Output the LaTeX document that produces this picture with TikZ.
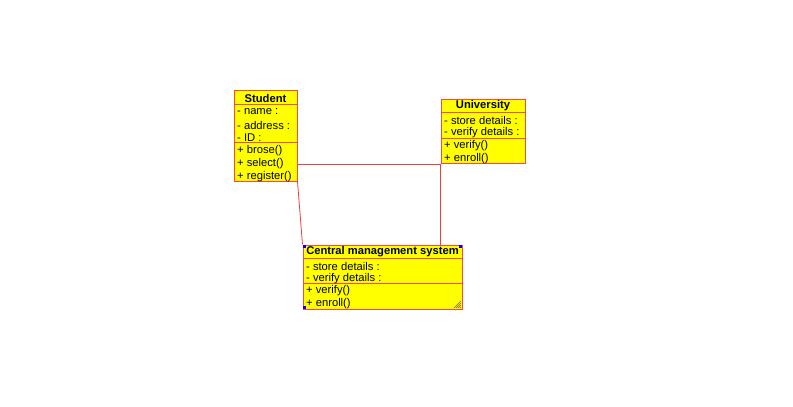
\documentclass[tikz,border=0pt]{standalone}
\usepackage{fontspec}
\setmainfont{Liberation Sans}
\begin{document}
\begin{tikzpicture}[x=1pt,y=-1pt,
  cls/.style={draw=umlred, fill=umlyellow, line width=1pt, rectangle, inner sep=0pt},
  sep/.style={draw=umlred, line width=1pt},
  lbl/.style={anchor=west, inner sep=0pt, yshift=-1.5pt, font=\fontsize{11.2}{13}\selectfont},
  ttl/.style={anchor=center, inner sep=0pt, yshift=-0.5pt, font=\fontsize{11.2}{13}\selectfont\bfseries},
  conn/.style={draw=umlline, line width=0.8pt},
  handle/.style={fill=blue, draw=none, minimum size=3pt, inner sep=0pt, rectangle}]
\definecolor{umlred}{RGB}{250,70,70}
\definecolor{umlline}{RGB}{240,60,60}
\definecolor{umlyellow}{RGB}{255,255,0}
\useasboundingbox[fill=white] (0,0) rectangle (793,407);

% Student
\node[cls, minimum width=63pt, minimum height=90.5pt] (stu) at (265.5,135.75) {};
\draw[sep] (234,104) -- (297,104);
\draw[sep] (234,142.5) -- (297,142.5);
\node[ttl] (stut) at (265.5,97.5) {Student};
\node[lbl] (stua1) at (237,110.5) {- name :};
\node[lbl] (stua2) at (237,123.5) {- address :};
\node[lbl] (stua3) at (237,136) {- ID :};
\node[lbl] (stuo1) at (237,149) {+ brose()};
\node[lbl] (stuo2) at (237,162) {+ select()};
\node[lbl] (stuo3) at (237,175) {+ register()};

% University
\node[cls, minimum width=84pt, minimum height=64.5pt] (uni) at (483,131.25) {};
\draw[sep] (441,112.5) -- (525,112.5);
\draw[sep] (441,138) -- (525,138);
\node[ttl] (unit) at (483,105.5) {University};
\node[lbl] (unia1) at (444,119) {- store details :};
\node[lbl] (unia2) at (444,131.5) {- verify details :};
\node[lbl] (unio1) at (444,144.5) {+ verify()};
\node[lbl] (unio2) at (444,157) {+ enroll()};

% Central management system
\node[cls, minimum width=159pt, minimum height=64pt] (cms) at (382.5,277) {};
\draw[sep] (303,258) -- (462,258);
\draw[sep] (303,283) -- (462,283);
\node[ttl] (cmst) at (382.5,251.5) {Central management system};
\node[lbl] (cmsa1) at (306,264.5) {- store details :};
\node[lbl] (cmsa2) at (306,277) {- verify details :};
\node[lbl] (cmso1) at (306,289.5) {+ verify()};
\node[lbl] (cmso2) at (306,302) {+ enroll()};
\node[handle, anchor=north west] (h1) at (303,245) {};
\node[handle, anchor=north east] (h2) at (462,245) {};
\node[handle, anchor=south west] (h3) at (303,309) {};
\foreach \d in {2,4,6,8}
  \draw[draw=olive!70!black, line width=0.4pt] (462-\d,308) -- (461,309-\d);

% Connectors
\draw[conn] (stu.east |- uni.south west) -- (uni.south west);
\draw[conn] (uni.south west) -- (uni.south west |- cms.north);
\draw[conn] (stu.south east) -- (cms.north west);
\end{tikzpicture}
\end{document}
